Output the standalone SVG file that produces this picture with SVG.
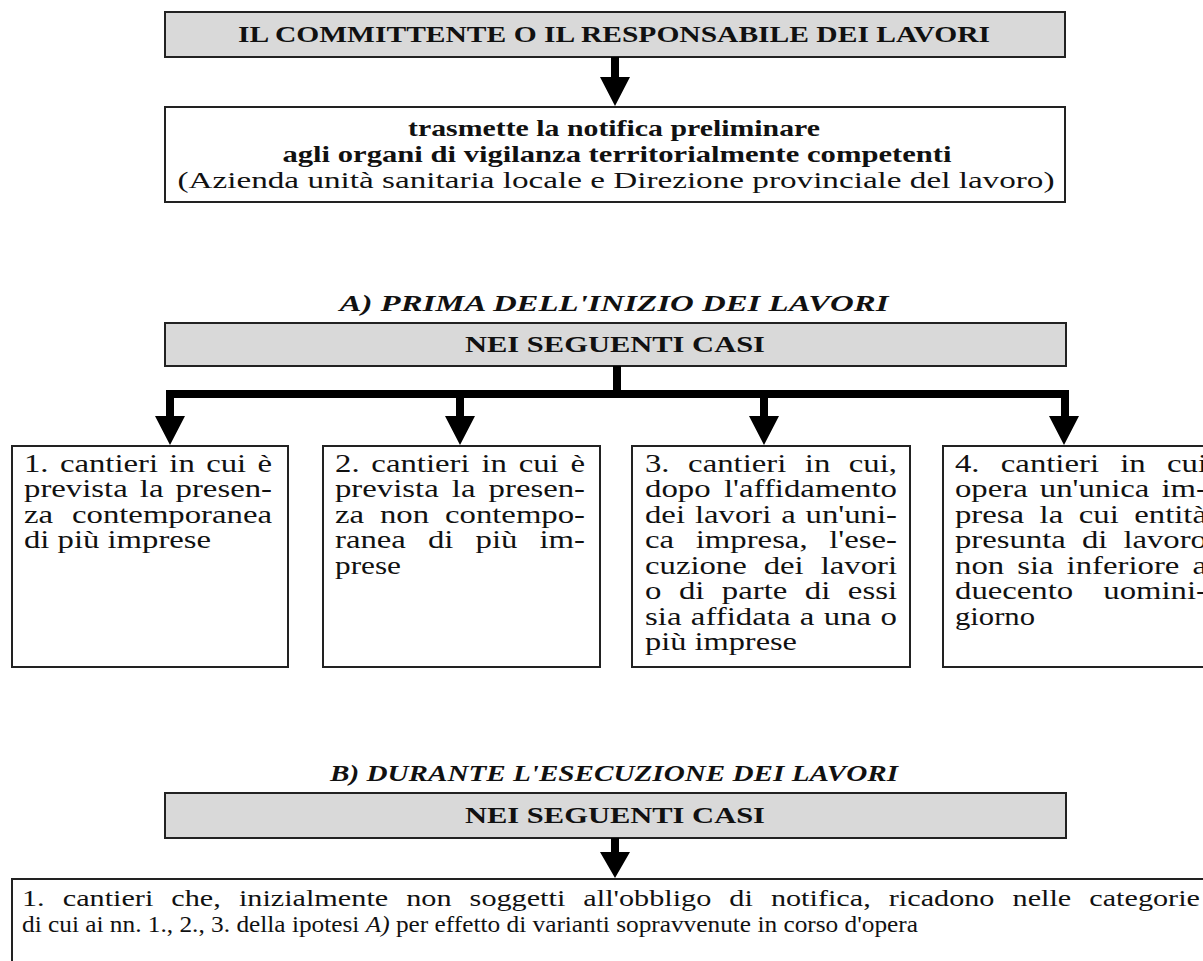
<svg xmlns="http://www.w3.org/2000/svg" width="1203" height="961" viewBox="0 0 1203 961">
<style>
.box{fill:#fff;stroke:#222;stroke-width:2}
.gbox{fill:#d9d9d9;stroke:#222;stroke-width:2}
.t{font-family:"Liberation Serif","Times New Roman",serif;font-size:23px;fill:#111}
.p{font-family:"Liberation Serif","Times New Roman",serif;font-size:25px;fill:#111}
.n{font-family:"Liberation Serif","Times New Roman",serif;font-size:23px;fill:#111}
.b{font-weight:bold}
.bi{font-weight:bold;font-style:italic;font-size:24px}
.c{text-anchor:middle}
.arr{fill:#000}
</style>
<rect width="1203" height="961" fill="#fff"/>
<g id="committente">
<rect class="gbox" x="165" y="12" width="900" height="45"/>
<text class="t b c" x="614" y="42" textLength="752" lengthAdjust="spacingAndGlyphs">IL COMMITTENTE O IL RESPONSABILE DEI LAVORI</text>
</g>
<g id="notifica">
<rect class="box" x="165" y="107" width="900" height="95"/>
<text class="t b c" x="614" y="136" textLength="412" lengthAdjust="spacingAndGlyphs">trasmette la notifica preliminare</text>
<text class="t b c" x="617" y="162" textLength="669" lengthAdjust="spacingAndGlyphs">agli organi di vigilanza territorialmente competenti</text>
<text class="t c" x="616" y="188" textLength="877" lengthAdjust="spacingAndGlyphs">(Azienda unità sanitaria locale e Direzione provinciale del lavoro)</text>
</g>
<g id="titoloA">
<text class="t bi c" x="614" y="311" textLength="549" lengthAdjust="spacingAndGlyphs">A) PRIMA DELL'INIZIO DEI LAVORI</text>
</g>
<g id="casiA">
<rect class="gbox" x="165" y="323" width="901" height="43"/>
<text class="t b c" x="615" y="352" textLength="300" lengthAdjust="spacingAndGlyphs">NEI SEGUENTI CASI</text>
</g>
<g id="caso1">
<rect class="box" x="12" y="446" width="276" height="221"/>
<text class="p" x="24" y="472" word-spacing="2.4" textLength="248" lengthAdjust="spacingAndGlyphs">1. cantieri in cui è</text>
<text class="p" x="24" y="497" word-spacing="3" textLength="248" lengthAdjust="spacingAndGlyphs">prevista la presen-</text>
<text class="p" x="24" y="523" word-spacing="8.2" textLength="248" lengthAdjust="spacingAndGlyphs">za contemporanea</text>
<text class="p" x="24" y="548" textLength="187" lengthAdjust="spacingAndGlyphs">di più imprese</text>
</g>
<g id="caso2">
<rect class="box" x="323" y="446" width="277" height="221"/>
<text class="p" x="335" y="472" word-spacing="2.7" textLength="250" lengthAdjust="spacingAndGlyphs">2. cantieri in cui è</text>
<text class="p" x="335" y="497" word-spacing="3.8" textLength="250" lengthAdjust="spacingAndGlyphs">prevista la presen-</text>
<text class="p" x="335" y="523" word-spacing="5.9" textLength="250" lengthAdjust="spacingAndGlyphs">za non contempo-</text>
<text class="p" x="335" y="548" word-spacing="10.6" textLength="250" lengthAdjust="spacingAndGlyphs">ranea di più im-</text>
<text class="p" x="335" y="574" textLength="66" lengthAdjust="spacingAndGlyphs">prese</text>
</g>
<g id="caso3">
<rect class="box" x="632" y="446" width="278" height="221"/>
<text class="p" x="645" y="472" word-spacing="7.9" textLength="252" lengthAdjust="spacingAndGlyphs">3. cantieri in cui,</text>
<text class="p" x="645" y="497" word-spacing="3.9" textLength="252" lengthAdjust="spacingAndGlyphs">dopo l'affidamento</text>
<text class="p" x="645" y="523" word-spacing="1.3" textLength="252" lengthAdjust="spacingAndGlyphs">dei lavori a un'uni-</text>
<text class="p" x="645" y="548" word-spacing="10.3" textLength="252" lengthAdjust="spacingAndGlyphs">ca impresa, l'ese-</text>
<text class="p" x="645" y="574" word-spacing="6.7" textLength="252" lengthAdjust="spacingAndGlyphs">cuzione dei lavori</text>
<text class="p" x="645" y="599" word-spacing="7.1" textLength="252" lengthAdjust="spacingAndGlyphs">o di parte di essi</text>
<text class="p" x="645" y="625" word-spacing="0.9" textLength="252" lengthAdjust="spacingAndGlyphs">sia affidata a una o</text>
<text class="p" x="645" y="650" textLength="152" lengthAdjust="spacingAndGlyphs">più imprese</text>
</g>
<g id="caso4">
<rect class="box" x="943" y="446" width="278" height="221"/>
<text class="p" x="955" y="472" word-spacing="10" textLength="252" lengthAdjust="spacingAndGlyphs">4. cantieri in cui</text>
<text class="p" x="955" y="497" word-spacing="3" textLength="252" lengthAdjust="spacingAndGlyphs">opera un'unica im-</text>
<text class="p" x="955" y="523" word-spacing="5.6" textLength="252" lengthAdjust="spacingAndGlyphs">presa la cui entità</text>
<text class="p" x="955" y="548" word-spacing="6" textLength="252" lengthAdjust="spacingAndGlyphs">presunta di lavoro</text>
<text class="p" x="955" y="574" word-spacing="3.7" textLength="252" lengthAdjust="spacingAndGlyphs">non sia inferiore a</text>
<text class="p" x="955" y="599" word-spacing="16.7" textLength="252" lengthAdjust="spacingAndGlyphs">duecento uomini-</text>
<text class="p" x="955" y="625" textLength="80" lengthAdjust="spacingAndGlyphs">giorno</text>
</g>
<g id="titoloB">
<text class="t bi c" x="614" y="781" textLength="568" lengthAdjust="spacingAndGlyphs">B) DURANTE L'ESECUZIONE DEI LAVORI</text>
</g>
<g id="casiB">
<rect class="gbox" x="165" y="793" width="901" height="45"/>
<text class="t b c" x="615" y="823" textLength="300" lengthAdjust="spacingAndGlyphs">NEI SEGUENTI CASI</text>
</g>
<g id="casoB1">
<rect class="box" x="12" y="879" width="1210" height="100"/>
<text class="n" x="22" y="906" word-spacing="8" textLength="1178" lengthAdjust="spacingAndGlyphs">1. cantieri che, inizialmente non soggetti all'obbligo di notifica, ricadono nelle categorie</text>
<text class="n" x="22" y="932" textLength="896" lengthAdjust="spacingAndGlyphs">di cui ai nn. 1., 2., 3. della ipotesi <tspan font-style="italic">A)</tspan> per effetto di varianti sopravvenute in corso d'opera</text>
</g>
<g id="connectors">
<polygon class="arr" points="611,57 619,57 619,77 630,77 615,106 600,77 611,77"/>
<rect class="arr" x="613" y="366" width="8" height="28"/>
<rect class="arr" x="166" y="390" width="903" height="8"/>
<polygon class="arr" points="166,390 174,390 174,416 185,416 170,445 155,416 166,416"/>
<polygon class="arr" points="456,390 464,390 464,416 475,416 460,445 445,416 456,416"/>
<polygon class="arr" points="760,390 768,390 768,416 779,416 764,445 749,416 760,416"/>
<polygon class="arr" points="1061,390 1069,390 1069,416 1079,416 1064,445 1049,416 1061,416"/>
<polygon class="arr" points="611,838 619,838 619,852 630,852 615,878 600,852 611,852"/>
</g>
</svg>
